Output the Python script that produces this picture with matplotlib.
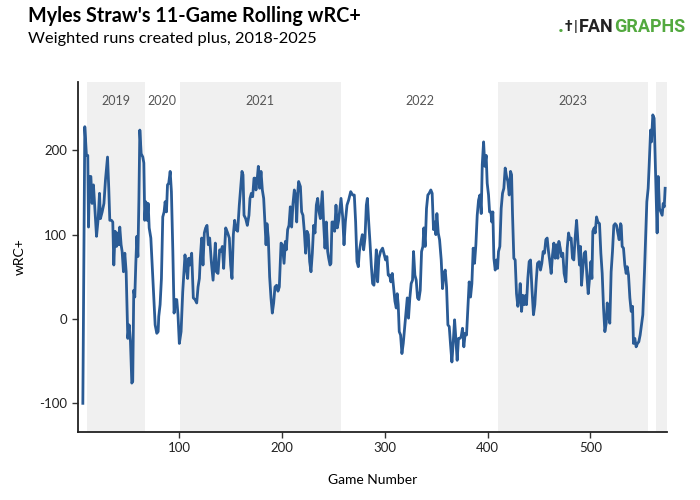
import matplotlib
matplotlib.use("Agg")
import matplotlib.pyplot as plt

# 11-game rolling wRC+ (game number, value)
games = [6.5, 8.4, 10, 11.3, 12, 13, 14.3, 15.5, 16.8, 18, 19.8, 21.4, 22.7, 23.6, 25.3, 27, 28.5, 30.5,
         31.7, 32.7, 34.3, 35.6, 36.6, 37.9, 39.2, 40.5, 41.5, 42.4, 43.7, 44.7, 46, 47.3, 48.6, 50.2,
         51.5, 52.8, 54.1, 55, 56, 57, 58, 59, 60, 61, 61.9, 63.2, 64.8, 65.8, 66.7, 67.7, 69, 70, 71,
         72.6, 74.2, 75.5, 76.8, 78.4, 79.7, 80.3, 81.6, 82.9, 84.2, 85.5, 86.5, 87.8, 88.8, 90, 91.4,
         92.6, 94, 95.2, 96.5, 97.8, 99, 100.3, 102, 103.6, 105.8, 107.1, 108.4, 109.4, 110.7, 112.3,
         113.9, 115.6, 117.2, 118.5, 119.8, 120.7, 122, 123.3, 124.6, 125.9, 127.2, 128.5, 129.8, 131.4,
         133.1, 134.4, 135.3, 136.3, 137.9, 139.5, 140.8, 142.1, 143.4, 145.4, 147.3, 148.9, 150.2,
         151.5, 152.8, 154.1, 155.4, 157, 158.6, 159.9, 161.2, 162.2, 163.2, 164.8, 166.4, 168, 169,
         170.3, 171.6, 172.9, 173.9, 174.8, 176.1, 177.1, 178.4, 179.7, 181, 182.3, 183.6, 184.6, 185.5,
         186.8, 188.1, 189.4, 190.7, 192, 193.3, 194.9, 196.2, 197.5, 199.2, 200.5, 202.1, 203.4, 204.3,
         205.6, 206.9, 208.2, 209.5, 210.8, 212.1, 213.4, 214.4, 215.4, 216.3, 218, 219.2, 220.5, 221.8,
         223.1, 224.4, 225.7, 227, 228.3, 229.6, 230.9, 232.2, 233.5, 234.8, 236.1, 237.4, 239.3, 240.6,
         241.9, 243.2, 244.5, 245.5, 246.8, 247.7, 248.7, 250, 251.3, 252.6, 253.9, 255.2, 257.5, 259.1,
         260.4, 261.7, 263.3, 264.9, 266.9, 268.8, 270.4, 271.7, 273, 274.3, 275.3, 276.9, 278.2, 279.5,
         280.8, 282.1, 283.1, 284.4, 285.6, 286.9, 288.2, 289.5, 290.8, 291.8, 293.1, 294.3, 295.9,
         297.9, 299.5, 300.8, 302.1, 303.4, 304.7, 306, 307.3, 308.6, 309.9, 311.2, 312.1, 313.1, 314.1,
         315.4, 316.7, 318, 319.3, 320.6, 321.9, 323.1, 324.4, 325.7, 327, 328, 329.3, 330.6, 331.9,
         333.2, 334.5, 335.8, 337.1, 338, 339.3, 340.6, 341.9, 343.2, 344.8, 346.1, 347.4, 348.7, 349.7,
         350.7, 352, 353.3, 354.9, 356.2, 357.5, 358.8, 360.1, 361.4, 362.7, 364, 365.3, 366.6, 367.9,
         369.1, 370.4, 371.7, 373, 374.3, 375.6, 376.9, 378.2, 379.5, 380.8, 382.1, 383.4, 384.7, 386,
         387.3, 388.6, 389.9, 391.2, 392.5, 393.8, 394.8, 396.1, 397.3, 398.6, 399.6, 400.9, 401.9,
         403.2, 404.1, 405.1, 406.1, 407.4, 408.7, 409.7, 410.6, 411.9, 413.2, 414.5, 415.8, 417.1,
         418.4, 419.7, 421, 422.3, 423.3, 424.2, 425.5, 426.8, 428.1, 429.4, 430.7, 431.7, 433, 434.3,
         435.6, 436.9, 437.8, 439.1, 440.4, 441.7, 443, 444.6, 445.9, 447.2, 448.5, 450.1, 451.4, 452.7,
         454, 455.3, 456.6, 457.9, 459.2, 460.5, 461.8, 463.1, 464.4, 465.7, 467, 468.3, 469.3, 470.6,
         471.9, 473.1, 474.4, 476.1, 477.4, 478.7, 480, 481.2, 482.5, 483.8, 485.1, 486.5, 488.2, 489.3,
         490.3, 491.3, 492.6, 493.9, 495.2, 496.5, 497.8, 499.1, 500.4, 501.4, 502.3, 503.6, 504.6,
         505.9, 507.2, 508.8, 510.1, 511.4, 512.7, 514, 515.3, 516.3, 517.5, 518.8, 520.1, 521.4, 522.7,
         524, 525.3, 526.6, 527.9, 529.2, 529.9, 530.8, 532.1, 533.4, 534.7, 535.7, 537, 538.3, 539.6,
         540.9, 541.8, 543.1, 544.4, 545.7, 547, 548.3, 549.6, 550.9, 552.5, 553.8, 554.8, 556.1, 557.1,
         558.4, 559.3, 560.6, 561.9, 562.9, 563.8, 564.8, 565.8, 567.1, 568.4, 569.7, 570.7, 571.7, 572.6]
wrc = [-100, 228, 194, 194, 109, 169, 169, 137, 159, 135, 98, 119, 149, 119, 127, 137, 165, 192,
       155, 117, 117, 115, 64, 104, 86, 102, 88, 109, 88, 80, 56, 78, 56, -23,
       -7, -27, -76, -74, 34, 26, 66, 98, 74, 141, 224, 196, 192, 185, 117, 139, 117, 137, 108,
       96, 56, 25, -7, -17, -15, 3, 17, 48, 121, 127, 139, 127, 159, 161, 175,
       151, 80, 7, 23, 23, 5, -29, -15, 32, 76, 60, 48, 72, 64, 78,
       25, 23, 19, 38, 48, 72, 96, 64, 102, 108, 111, 88, 96, 68,
       46, 72, 90, 56, 54, 82, 80, 86, 60, 108, 102, 96, 64,
       48, 100, 117, 106, 104, 135, 155, 175, 171, 123, 119, 111, 123, 143,
       149, 145, 167, 167, 153, 167, 181, 155, 175, 153, 143, 111, 88, 113,
       96, 50, 25, 7, 19, 38, 40, 33, 38, 90, 88, 66, 92, 82,
       106, 111, 133, 109, 137, 153, 145, 115, 149, 163, 157, 127, 123, 104,
       78, 104, 100, 68, 56, 78, 111, 102, 135, 143, 127, 119, 151, 113,
       84, 115, 80, 72, 64, 66, 115, 115, 104, 135, 108, 117, 143, 121,
       88, 115, 135, 141, 151, 147, 147, 115, 68, 62, 80, 92, 100, 82,
       96, 135, 143, 115, 92, 64, 42, 40, 60, 82, 44, 72, 80,
       84, 76, 70, 74, 52, 52, 44, 54, 38, 21, 13, 30, 17, -15,
       -19, -41, -29, -11, 7, 25, 1, 25, 42, 46, 80, 52, 46, 25,
       23, 34, 80, 86, 108, 86, 131, 147, 149, 153, 149, 106, 115, 100,
       125, 102, 94, 70, 36, 54, 58, 38, -7, -9, -31, -51, -27, -1,
       -23, -49, -23, -23, -21, -11, -33, -17, -19, 13, 44, 26, 42, 84,
       66, 88, 123, 141, 147, 125, 183, 210, 181, 194, 161, 147, 127,
       127, 115, 127, 72, 58, 70, 60, 80, 86, 131, 149, 155, 179,
       169, 163, 147, 175, 171, 125, 72, 70, 30, 15, 25, 42, 9, 28,
       17, 28, 17, 48, 68, 70, 38, 5, 17, 44, 66, 68, 58, 66,
       80, 78, 94, 96, 80, 68, 54, 76, 90, 72, 88, 72, 92, 84,
       74, 78, 54, 44, 84, 102, 94, 96, 72, 70, 96, 117, 84, 64,
       86, 40, 60, 78, 80, 52, 30, 48, 68, 48, 104, 108, 102,
       121, 115, 113, 78, 54, 13, -15, -5, 19, 5, -5, 56, 80, 111,
       113, 111, 102, 94, 113, 111, 86, 84, 64, 54, 62, 52, 25, 9,
       15, -29, -23, -33, -29, -27, -19, -7, 5, 56, 104, 139, 155, 183,
       224, 210, 242, 238, 190, 143, 102, 169, 131, 127, 123, 137, 133, 155]

# first game of each season (by career game number)
season_years = [2018, 2019, 2020, 2021, 2022, 2023, 2024, 2025]
season_starts = [1, 10.5, 66.5, 100.5, 257.5, 410.5, 556, 564]
last_game = 574.5

plt.rcParams['font.family'] = ['Lato', 'DejaVu Sans']
plt.rcParams['axes.unicode_minus'] = False

fig = plt.figure(figsize=(7, 5), dpi=100)
ax = fig.add_axes([0.111, 0.136, 0.842, 0.700])

# alternate-season shading with year labels
bounds = season_starts + [last_game]
for i, yr in enumerate(season_years):
    s, e = bounds[i], bounds[i + 1]
    if i % 2 == 1:
        ax.axvspan(s, e, color='#f0f0f0', lw=0, zorder=0)
    if e - s > 25:
        ax.text((s + e) / 2, 259, str(yr), ha='center', va='center', fontsize=9,
                color='#555555')

ax.plot(games, wrc, color='#2a5b95', lw=2.0, zorder=3)

ax.set_xlim(1.5, last_game)
ax.set_ylim(-134, 281)
ax.set_xticks([100, 200, 300, 400, 500])
ax.set_yticks([-100, 0, 100, 200])
ax.tick_params(axis='both', length=4, width=1, color='#333333', labelsize=9.5,
               labelcolor='#222222')
for sp in ['top', 'right']:
    ax.spines[sp].set_visible(False)
for sp in ['left', 'bottom']:
    ax.spines[sp].set_color('#222222')
    ax.spines[sp].set_linewidth(1.3)

ax.set_xlabel('Game Number', fontsize=10, labelpad=14)
ax.set_ylabel('wRC+', fontsize=10, labelpad=10)

fig.text(0.04, 0.957, "Myles Straw's 11-Game Rolling wRC+", fontsize=14.2, fontweight='bold',
         va='baseline')
fig.text(0.04, 0.913, "Weighted runs created plus, 2018-2025", fontsize=11.8, va='baseline')

# FanGraphs wordmark, laid out left to right from the icon
fig.canvas.draw()
inv = fig.transFigure.inverted()
logo_y = 0.946
x = 0.797
parts = [(".", '#53a93f', 15), ("\u2020", '#222222', 10), ("|", '#222222', 11),
         ("FAN", '#222222', 13), ("GRAPHS", '#53a93f', 13)]
for txt, col, fs in parts:
    t = fig.text(x, logo_y, txt, fontsize=fs, fontweight='bold', color=col, va='center',
                 family=['Roboto', 'DejaVu Sans'])
    bb = t.get_window_extent(renderer=fig.canvas.get_renderer())
    x = inv.transform((bb.x1, bb.y0))[0] + 0.0015

fig.savefig('out.png', dpi=100)
